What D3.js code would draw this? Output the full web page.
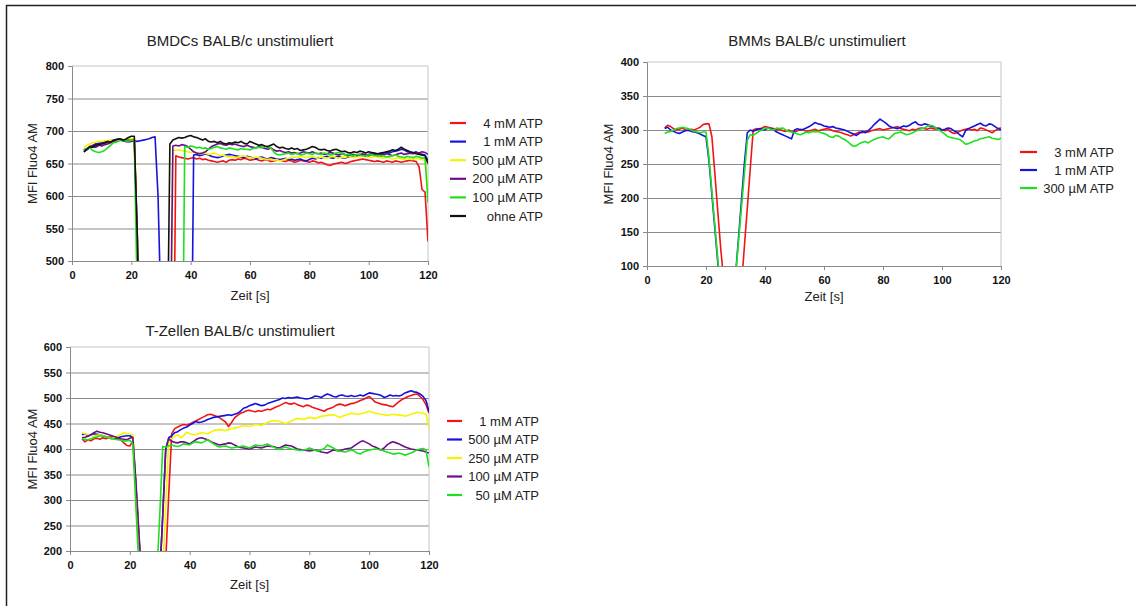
<!DOCTYPE html>
<html>
<head>
<meta charset="utf-8">
<script src="https://cdn.jsdelivr.net/npm/d3@7"></script>
<style>
  body { margin: 0; background: #fff; }
  svg { display: block; font-family: "Liberation Sans", Arial, sans-serif; }
</style>
</head>
<body>
<div class="chart"></div>
<script>
// ---------- data (1 s steps) ----------
// BMDCs, t = 4 ... 120 s
const bmdcTime = d3.range(4, 121)
const bmdcNames = ["4 mM ATP", "1 mM ATP", "500 µM ATP", "200 µM ATP", "100 µM ATP", "ohne ATP"]
const bmdcRed = [
  670,673,676,678,680,680,681,680,682,684, 685,684,686,686,686,687,688,688,540,320,
  150,150,150,150,150,150,150,150,150,150, 200,662,660,659,658,657,658,659,657,658,
  656,657,655,654,653,652,653,654,652,655, 656,655,657,656,658,657,655,656,657,655,
  654,656,655,653,654,655,656,654,653,655, 654,652,653,655,654,653,652,654,653,651,
  652,650,648,647,649,650,651,652,650,651, 653,654,655,656,657,656,655,654,653,654,
  653,652,654,653,652,654,653,652,653,654, 655,654,653,645,610,606,530]
const bmdcBlue = [
  670,672,675,677,680,681,682,683,684,685, 686,687,688,687,686,686,686,685,684,685,
  686,687,688,690,691,600,420,150,150,150, 150,150,150,150,150,150,200,663,664,662,
  663,665,663,661,660,659,660,662,663,664, 663,662,661,660,659,661,660,658,657,659,
  660,658,657,659,658,657,656,657,658,656, 657,655,656,657,655,654,656,658,657,659,
  658,660,661,659,658,660,661,659,658,660, 661,662,663,664,663,662,664,665,664,663,
  665,666,667,666,668,669,670,672,671,668, 667,666,668,665,664,663,655]
const bmdcYellow = [
  675,678,680,682,683,684,684,685,685,686, 686,685,686,687,688,688,688,688,540,320,
  150,150,150,150,150,150,150,150,150,200, 671,670,671,670,669,668,667,668,666,667,
  665,666,664,665,666,664,662,663,661,660, 661,659,660,661,662,660,659,658,660,659,
  658,657,656,657,655,656,654,655,657,658, 659,660,659,661,660,659,660,661,659,658,
  660,659,658,660,661,659,658,660,659,661, 660,659,661,660,662,661,660,659,661,660,
  659,658,660,659,657,658,659,657,656,658, 657,656,658,657,656,655,610]
const bmdcPurple = [
  668,671,674,676,675,678,677,679,680,682, 684,686,688,685,684,683,684,686,540,320,
  150,150,150,150,150,150,150,150,150,300, 677,678,677,679,678,676,672,668,666,665,
  666,668,672,676,678,680,681,679,678,680, 679,680,678,677,676,678,676,675,674,676,
  675,673,672,674,671,669,670,668,667,668, 666,667,665,666,668,667,666,668,666,665,
  666,664,665,667,666,664,663,665,664,662, 663,664,662,663,665,663,662,664,663,662,
  664,663,665,664,662,663,665,666,664,665, 666,665,667,666,668,667,664]
const bmdcGreen = [
  672,673,674,670,668,667,668,670,674,678, 682,683,685,686,685,684,686,686,440,200,
  150,150,150,150,150,150,150,150,150,150, 150,150,150,200,676,675,677,676,674,675,
  673,674,672,673,675,676,674,673,672,674, 673,672,671,673,672,672,671,673,674,675,
  674,676,675,674,668,664,663,664,665,666, 664,665,666,663,664,666,665,664,666,665,
  664,666,665,663,664,666,667,665,663,664, 663,662,664,663,662,661,663,664,662,663,
  661,662,660,661,662,663,661,660,659,661, 660,659,661,660,658,659,590]
const bmdcBlack = [
  668,672,676,675,678,679,680,682,684,683, 686,687,688,686,687,690,692,692,540,320,
  150,150,150,150,150,150,150,150,300,680, 686,688,690,689,690,692,693,691,690,688,
  686,688,684,683,684,682,684,681,680,682, 681,683,682,684,681,680,684,682,680,678,
  679,677,676,678,680,676,674,675,673,672, 674,672,673,670,671,672,674,676,675,672,
  671,672,670,669,671,672,670,668,669,667, 666,668,667,669,668,666,668,667,666,665,
  666,667,668,669,671,670,672,675,672,670, 668,667,665,664,663,662,650]
const bmdcYTicks = [500, 550, 600, 650, 700, 750, 800]

// BMMs, t = 6 ... 120 s
const bmmTime = d3.range(6, 121)
const bmmNames = ["3 mM ATP", "1 mM ATP", "300 µM ATP"]
const bmmRed = [
  303,307,305,302,300,301,303,300,299,301, 300,302,304,308,309,309,290,236,180,125,
  80,60,60,60,60,60,70,128,185,243, 300,302,301,303,305,304,303,302,300,301,
  299,298,300,298,297,299,301,300,298,299, 300,301,299,300,301,302,301,299,298,297,
  296,294,293,291,293,295,297,296,298,297, 299,300,301,302,300,301,302,303,304,305,
  302,301,300,299,301,300,302,303,302,301, 303,302,301,303,300,299,301,297,295,296,
  298,300,301,302,300,301,299,303,302,300, 298,296,299,302,303]
const bmmBlue = [
  302,304,300,298,296,295,297,299,300,298, 297,296,294,292,290,255,205,155,105,60,
  60,60,60,60,85,140,195,250,296,300, 298,300,302,301,300,303,302,300,297,295,
  293,291,289,287,300,302,300,301,303,305, 308,311,309,308,306,305,304,305,303,302,
  301,300,298,296,294,292,295,298,296,299, 303,308,312,316,313,310,306,304,303,302,
  304,306,305,307,310,312,308,307,309,308, 306,305,303,302,300,301,303,302,299,297,
  293,290,299,302,304,306,308,310,307,306, 309,308,305,302,300]
const bmmGreen = [
  295,297,298,300,302,303,304,303,302,300, 298,297,296,297,297,260,210,160,110,60,
  60,60,60,60,85,135,185,235,285,293, 292,295,298,300,302,303,301,300,303,302,
  303,300,298,297,296,294,293,295,297,296, 298,297,298,296,295,293,290,289,292,291,
  288,286,283,279,276,277,280,282,283,281, 284,286,288,289,290,288,287,291,295,296,
  297,295,293,294,296,298,300,302,303,305, 307,306,302,300,297,294,290,289,288,287,
  286,283,279,280,282,284,285,287,288,289, 290,288,287,286,288]
const bmmYTicks = [100, 150, 200, 250, 300, 350, 400]

// T-Zellen, t = 4 ... 120 s
const tTime = d3.range(4, 121)
const tNames = ["1 mM ATP", "500 µM ATP", "250 µM ATP", "100 µM ATP", "50 µM ATP"]
const tRed = [
  420,414,418,416,420,421,419,422,420,423, 424,422,420,418,412,407,406,415,330,230,
  140,100,100,100,100,100,100,100,180,310, 430,440,443,446,448,447,449,452,455,458,
  461,464,467,468,466,464,461,457,453,444, 452,461,466,470,472,475,476,474,473,475,
  474,476,478,477,480,483,485,488,491,489, 488,490,487,485,483,486,485,482,480,478,
  476,474,478,480,482,486,488,487,485,487, 489,490,492,495,497,500,503,498,492,490,
  488,487,486,484,483,488,493,497,500,503, 505,507,508,503,497,487,470]
const tBlue = [
  428,430,426,428,430,429,428,426,424,422, 420,421,422,424,425,426,426,422,330,230,
  140,100,100,100,100,100,150,270,400,422, 426,432,434,438,441,443,447,450,454,452,
  453,455,458,460,462,463,464,465,466,467, 466,468,470,474,480,482,485,487,489,487,
  485,486,489,491,493,495,497,500,499,501, 500,501,502,500,499,498,499,501,504,503,
  501,505,508,506,503,502,505,506,504,503, 505,503,504,506,504,507,510,509,508,507,
  505,501,503,506,504,505,504,506,510,512, 514,512,511,508,503,495,474]
const tYellow = [
  432,430,428,426,425,427,428,426,424,422, 420,423,426,428,432,430,430,428,330,230,
  140,100,100,100,100,100,100,160,290,418, 420,425,428,422,426,433,430,429,428,430,
  432,431,430,433,436,437,438,437,436,438, 440,441,442,444,446,445,444,446,448,447,
  446,449,452,454,456,455,455,452,450,452, 455,458,460,459,458,460,462,461,460,462,
  464,465,466,467,467,465,462,464,466,468, 470,469,468,469,470,472,474,472,470,469,
  468,467,466,467,468,467,467,466,464,466, 468,470,472,471,470,468,440]
const tPurple = [
  422,423,425,428,432,435,433,432,430,428, 426,424,422,420,419,418,421,423,340,240,
  140,100,100,100,100,100,150,270,400,420, 415,413,412,414,414,412,410,414,418,421,
  422,420,418,415,412,410,408,409,410,412, 411,408,405,403,402,401,400,402,404,403,
  402,404,406,405,405,403,402,405,408,407, 406,403,400,399,398,397,396,397,398,396,
  394,393,392,395,398,397,396,398,400,401, 402,406,410,414,416,413,410,406,404,401,
  398,402,408,412,414,412,410,407,404,402, 400,399,398,397,396,394,392]
const tGreen = [
  420,419,418,420,422,424,426,425,424,422, 420,419,418,417,416,416,417,410,290,170,
  100,100,100,100,100,150,270,405,404,406, 408,406,405,407,410,409,408,412,414,413,
  412,415,418,414,410,406,404,405,406,404, 402,403,404,405,406,404,402,405,408,407,
  406,408,410,407,404,401,400,402,404,402, 400,399,398,397,398,399,402,400,397,396,
  398,401,408,405,402,398,396,395,394,396, 398,396,392,390,394,396,398,399,400,399,
  398,396,394,392,390,391,392,390,388,390, 392,395,398,400,401,398,365]
const tYTicks = [200, 250, 300, 350, 400, 450, 500, 550, 600]

const xTicks = [0, 20, 40, 60, 80, 100, 120]

const RED = "#f01414", BLUE = "#1414dc", YELLOW = "#f4f400", PURPLE = "#6c1088", GREEN = "#1ee01e", BLACK = "#111"

// ---------- drawing ----------
let w = 1136
let h = 606

let svg = d3.select(".chart")
  .append("svg")
  .attr("width", w)
  .attr("height", h)

// outer frame (top + left only)
svg.append("path")
  .attr("d", "M6.5,606V5.5H1136")
  .attr("fill", "none")
  .attr("stroke", "#222")
  .attr("stroke-width", 1.5)

function panel(p) {
  const x = d3.scaleLinear().domain([0, 120]).range([p.left, p.right])
  const y = d3.scaleLinear().domain(d3.extent(p.yTicks)).range([p.bottom, p.top])
  const g = svg.append("g")

  // gridlines
  g.append("g")
    .attr("transform", "translate(" + p.left + ",0)")
    .call(d3.axisLeft(y).tickValues(p.yTicks.slice(1, -1)).tickSize(-(p.right - p.left)).tickFormat(""))
    .call(s => s.select(".domain").remove())
    .selectAll("line").attr("stroke", "#8a8a8a")

  // top + right frame
  g.append("path")
    .attr("d", "M" + p.left + "," + y(p.yTicks[p.yTicks.length - 1]) + "H" + x(120) + "V" + p.bottom)
    .attr("fill", "none")
    .attr("stroke", "#c4c4c4")

  // axes
  const yAx = g.append("g")
    .attr("transform", "translate(" + p.left + ",0)")
    .call(d3.axisLeft(y).tickValues(p.yTicks).tickSize(4).tickPadding(4))
  const xAx = g.append("g")
    .attr("transform", "translate(0," + p.bottom + ")")
    .call(d3.axisBottom(x).tickValues(xTicks).tickSize(4).tickPadding(6.5))
  ;[yAx, xAx].forEach(a => {
    a.select(".domain").attr("stroke", "#8a8a8a")
    a.selectAll(".tick line").attr("stroke", "#8a8a8a")
    a.selectAll("text")
      .attr("fill", "#111")
      .style("font-family", "'Liberation Sans', Arial, sans-serif")
      .style("font-size", "11px")
      .style("font-weight", "bold")
  })

  // clip + lines
  g.append("clipPath").attr("id", p.id)
    .append("rect")
    .attr("x", p.left).attr("y", p.top)
    .attr("width", p.right - p.left).attr("height", p.bottom - p.top)

  const line = d3.line()
    .x((d, i) => x(p.time[i]))
    .y(d => y(d))

  g.append("g").attr("clip-path", "url(#" + p.id + ")")
    .selectAll("path")
    .data(p.series)
    .enter()
    .append("path")
    .attr("d", d => line(d.values))
    .attr("fill", "none")
    .attr("stroke", d => d.color)
    .attr("stroke-width", 1.6)
    .attr("stroke-linejoin", "round")

  // title + axis labels
  g.append("text")
    .text(p.title)
    .attr("x", p.titleX).attr("y", p.titleY)
    .attr("text-anchor", "middle")
    .style("font-size", "15px")
    .attr("fill", "#222")
  g.append("text")
    .text("Zeit [s]")
    .attr("x", (p.left + p.right) / 2).attr("y", p.xLabY)
    .attr("text-anchor", "middle")
    .style("font-size", "13px")
    .attr("fill", "#222")
  g.append("text")
    .text("MFI Fluo4 AM")
    .attr("transform", "translate(" + p.yLabX + "," + (p.top + p.bottom) / 2 + ") rotate(-90)")
    .attr("dy", "0.35em")
    .attr("text-anchor", "middle")
    .style("font-size", "13px")
    .attr("fill", "#222")

  // legend
  const leg = g.selectAll(".leg")
    .data(p.series)
    .enter()
    .append("g")
    .attr("transform", (d, i) => "translate(0," + (p.legY + i * p.legStep) + ")")
  leg.append("line")
    .attr("x1", p.legX1).attr("x2", p.legX2)
    .attr("stroke", d => d.color)
    .attr("stroke-width", 2.2)
  leg.append("text")
    .text(d => d.name)
    .attr("x", p.legTextX)
    .attr("dy", "0.35em")
    .attr("text-anchor", "end")
    .style("font-size", "13px")
    .attr("fill", "#222")
}

panel({
  id: "clipBmdc", title: "BMDCs BALB/c unstimuliert",
  left: 72, right: 428, top: 66, bottom: 261,
  titleX: 240, titleY: 46, xLabY: 300, yLabX: 32,
  yTicks: bmdcYTicks, time: bmdcTime,
  series: [
    { name: bmdcNames[0], color: RED, values: bmdcRed },
    { name: bmdcNames[1], color: BLUE, values: bmdcBlue },
    { name: bmdcNames[2], color: YELLOW, values: bmdcYellow },
    { name: bmdcNames[3], color: PURPLE, values: bmdcPurple },
    { name: bmdcNames[4], color: GREEN, values: bmdcGreen },
    { name: bmdcNames[5], color: BLACK, values: bmdcBlack }
  ],
  legX1: 450, legX2: 466, legTextX: 543, legY: 123, legStep: 18.6
})

panel({
  id: "clipBmm", title: "BMMs BALB/c unstimuliert",
  left: 647, right: 1001, top: 62, bottom: 266,
  titleX: 817, titleY: 46, xLabY: 301, yLabX: 608,
  yTicks: bmmYTicks, time: bmmTime,
  series: [
    { name: bmmNames[0], color: RED, values: bmmRed },
    { name: bmmNames[1], color: BLUE, values: bmmBlue },
    { name: bmmNames[2], color: GREEN, values: bmmGreen }
  ],
  legX1: 1020, legX2: 1037, legTextX: 1114, legY: 152, legStep: 18
})

panel({
  id: "clipT", title: "T-Zellen BALB/c unstimuliert",
  left: 70, right: 429, top: 347, bottom: 551,
  titleX: 240, titleY: 336, xLabY: 589, yLabX: 32,
  yTicks: tYTicks, time: tTime,
  series: [
    { name: tNames[0], color: RED, values: tRed },
    { name: tNames[1], color: BLUE, values: tBlue },
    { name: tNames[2], color: YELLOW, values: tYellow },
    { name: tNames[3], color: PURPLE, values: tPurple },
    { name: tNames[4], color: GREEN, values: tGreen }
  ],
  legX1: 447, legX2: 462, legTextX: 539, legY: 421, legStep: 18.5
})
</script>
</body>
</html>
